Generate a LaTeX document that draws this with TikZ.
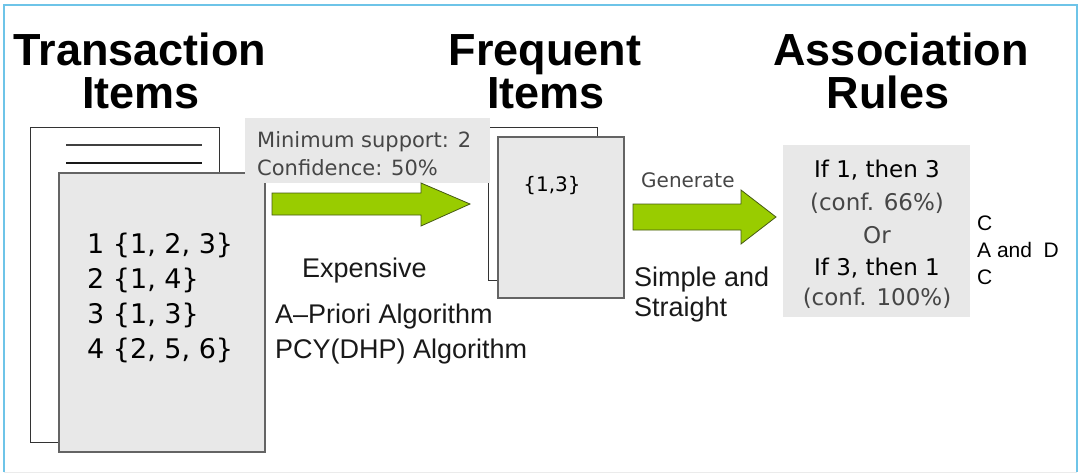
\documentclass[tikz,border=0pt]{standalone}
\usepackage{fontspec}
\setmainfont{Liberation Sans}
\newfontfamily\djsans{DejaVu Sans}
\usetikzlibrary{calc}
\definecolor{framebl}{RGB}{110,196,232}
\definecolor{pagegray}{RGB}{232,232,232}
\definecolor{pageedge}{RGB}{100,100,100}
\definecolor{arrowgreen}{RGB}{153,204,0}
\definecolor{arrowedge}{RGB}{70,90,20}
\definecolor{softtext}{RGB}{70,70,70}
\begin{document}
\begin{tikzpicture}[x=1pt,y=-1pt,
  title/.style={font=\fontsize{45}{45}\selectfont\bfseries, anchor=base, inner sep=0pt},
  body/.style={font=\fontsize{27}{27}\selectfont, anchor=base west, inner sep=0pt, text=black!90},
  rowtxt/.style={font=\djsans\fontsize{27}{27}\selectfont, anchor=base west, inner sep=0pt},
  note/.style={font=\djsans\fontsize{21}{21}\selectfont, anchor=base west, inner sep=0pt, text=softtext},
  rule/.style={font=\djsans\fontsize{23}{23}\selectfont, anchor=base, inner sep=0pt, text=black},
  conf/.style={font=\djsans\fontsize{23}{23}\selectfont, anchor=base, inner sep=0pt, text=softtext},
  side/.style={font=\fontsize{21}{21}\selectfont, anchor=base west, inner sep=0pt},
  backpage/.style={draw=black!80, line width=1.2pt, fill=white, inner sep=0pt, anchor=north west},
  frontpage/.style={draw=pageedge, line width=1.5pt, fill=pagegray, inner sep=0pt, anchor=north west},
  fatarrow/.style={fill=arrowgreen, draw=arrowedge, line width=0.8pt, line join=miter}
]
\useasboundingbox (0,0) rectangle (1080,474);

% outer frame
\draw[black!8, line width=1pt] (4,472) -- (1077,472);
\draw[framebl, line width=2pt] (4,472) -- (4,5) -- (1077,5) -- (1077,472);

% column titles
\node[title] (t1a) at (140,65) {Transaction};
\node[title] (t1b) at (141,108) {Items};
\node[title] (t2a) at (545,65) {Frequent};
\node[title] (t2b) at (546,108) {Items};
\node[title] (t3a) at (901,65) {Association};
\node[title] (t3b) at (888,108) {Rules};

% transaction pages
\node[backpage, minimum width=189pt, minimum height=315pt] (tback) at (30,127) {};
\draw[black!75, line width=1.3pt] (66,145) -- (202,145);
\draw[black!90, line width=1.3pt] (66,163) -- (202,163);
\node[frontpage, minimum width=206pt, minimum height=279pt] (tfront) at (58,172) {};
\node[rowtxt] (row1) at (87,253) {1 \{1, 2, 3\}};
\node[rowtxt] (row2) at (87,288) {2 \{1, 4\}};
\node[rowtxt] (row3) at (87,323) {3 \{1, 3\}};
\node[rowtxt] (row4) at (87,358) {4 \{2, 5, 6\}};

% frequent item pages
\node[backpage, minimum width=109pt, minimum height=153pt] (fback) at (488,127) {};
\node[frontpage, minimum width=126pt, minimum height=161pt] (ffront) at (497,136) {};
\node[font=\djsans\fontsize{20}{20}\selectfont, inner sep=0pt] (fset) at (552,186) {\{1,3\}};

% thresholds label
\node[fill=pagegray, inner sep=0pt, anchor=north west, minimum width=245pt, minimum height=65pt] (lbl) at (245,118) {};
\node[note] (minsup) at (257,147) {Minimum\ support: 2};
\node[note] (minconf) at (257,175) {Confidence: 50\%};

% block arrows between the stages
\coordinate (a1s) at (272,204);
\coordinate (a1t) at (470,204);
\draw[fatarrow] (a1s) ++(0,-11) -- (421,193) -- (421,183) -- (a1t) -- (421,226) -- (421,215) -- ($(a1s)+(0,11)$) -- cycle;
\coordinate (a2s) at (633,217);
\coordinate (a2t) at (776,217);
\draw[fatarrow] (a2s) ++(0,-13) -- (741,204) -- (741,190) -- (a2t) -- (741,244) -- (741,230) -- ($(a2s)+(0,13)$) -- cycle;

% arrow captions
\node[body] (exp) at (302,277) {Expensive};
\node[body] (apr) at (275,323) {A\textendash Priori Algorithm};
\node[body] (pcy) at (275,358) {PCY(DHP) Algorithm};
\node[note, font=\djsans\fontsize{20}{20}\selectfont] (gen) at (641,187) {Generate};
\node[body] (simp) at (634,286) {Simple and};
\node[body] (strt) at (634,316) {Straight};

% association rules
\node[fill=pagegray, inner sep=0pt, anchor=north west, minimum width=187pt, minimum height=172pt] (rbox) at (783,145) {};
\node[rule] (r1) at (877,177) {If 1, then 3};
\node[conf] (r2) at (877,210) {(conf. 66\%)};
\node[conf] (r3) at (877,243) {Or};
\node[rule] (r4) at (877,275) {If 3, then 1};
\node[conf] (r5) at (877,305) {(conf. 100\%)};

\node[side] (s1) at (977,230) {C};
\node[side] (s2) at (977,257) {A and\ \ D};
\node[side] (s3) at (977,284) {C};
\end{tikzpicture}
\end{document}
